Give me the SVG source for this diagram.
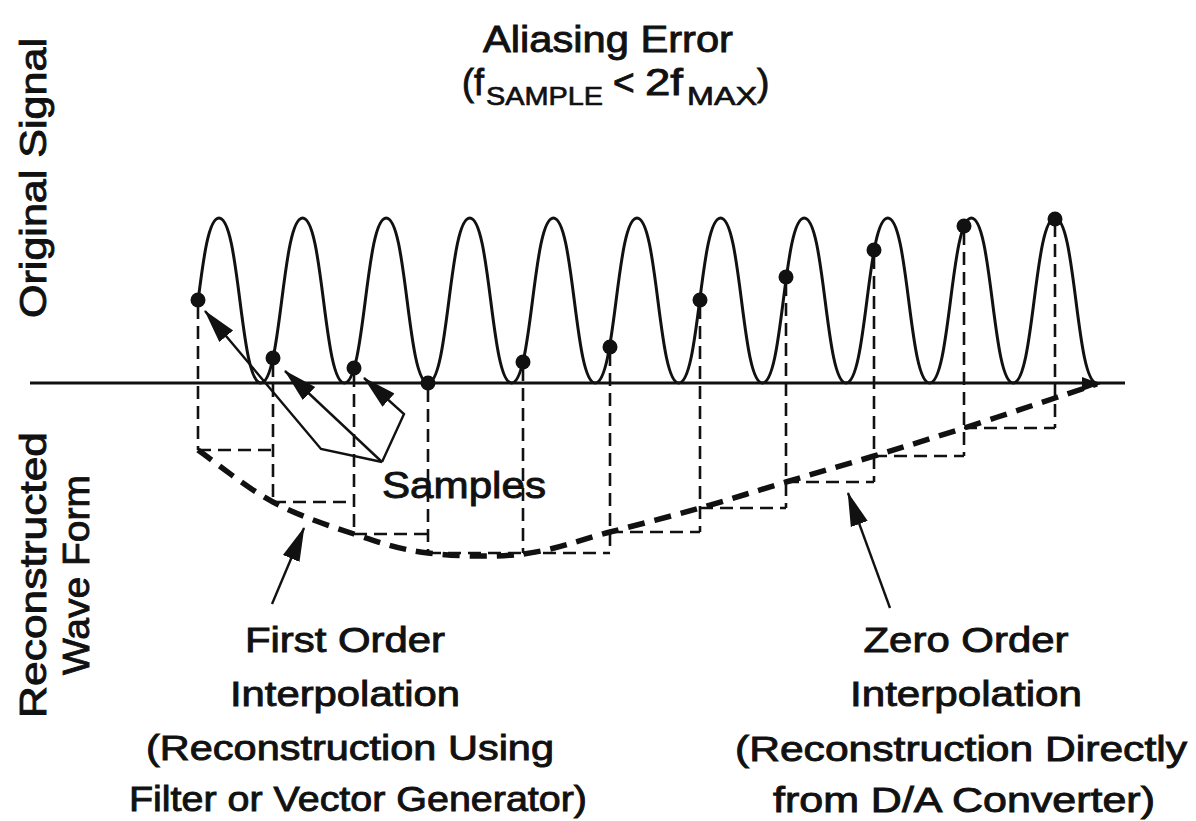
<svg xmlns="http://www.w3.org/2000/svg" width="1196" height="821" viewBox="0 0 1196 821">
<defs>
<style>
.t{font-family:"Liberation Sans",Arial,Helvetica,sans-serif;fill:#111;stroke:#111;stroke-width:0.9;}
.big{font-size:37px;}
.mid{font-size:35px;}
.sub{font-size:26px;stroke-width:0.7;}
.wave{fill:none;stroke:#111;stroke-width:3;}
.axis{fill:none;stroke:#111;stroke-width:3;}
.vd{fill:none;stroke:#111;stroke-width:2.6;stroke-dasharray:13 7;}
.hd{fill:none;stroke:#111;stroke-width:2.6;stroke-dasharray:13 7;}
.bold{fill:none;stroke:#111;stroke-width:5.5;stroke-dasharray:17 10;}
.ln{fill:none;stroke:#111;stroke-width:2.4;}
.dot{fill:#111;}
</style>
<marker id="head" markerUnits="userSpaceOnUse" viewBox="0 0 34 20" markerWidth="34" markerHeight="20" refX="33" refY="10" orient="auto">
<path d="M0,1 L34,10 L0,19 z" fill="#111"/>
</marker>
</defs>
<rect width="1196" height="821" fill="#fff"/>

<g id="title">
<text class="t big" x="608" y="52" text-anchor="middle" textLength="250" lengthAdjust="spacingAndGlyphs">Aliasing Error</text>
<text class="t big" y="95"><tspan x="462" textLength="22" lengthAdjust="spacingAndGlyphs">(f</tspan><tspan class="sub" x="486" y="105" textLength="117" lengthAdjust="spacingAndGlyphs">SAMPLE</tspan><tspan x="613" y="95">&lt;</tspan><tspan x="645" y="95" textLength="38" lengthAdjust="spacingAndGlyphs">2f</tspan><tspan class="sub" x="687" y="105" textLength="70" lengthAdjust="spacingAndGlyphs">MAX</tspan><tspan x="757" y="95">)</tspan></text>
</g>

<g id="side-labels">
<text class="t big" transform="translate(46,178) rotate(-90)" text-anchor="middle" textLength="280" lengthAdjust="spacingAndGlyphs">Original Signal</text>
<text class="t big" transform="translate(46,575) rotate(-90)" text-anchor="middle" textLength="286" lengthAdjust="spacingAndGlyphs">Reconstructed</text>
<text class="t big" transform="translate(89,575) rotate(-90)" text-anchor="middle" textLength="200" lengthAdjust="spacingAndGlyphs">Wave Form</text>
</g>

<g id="axis">
<line class="axis" x1="30" y1="383" x2="1125" y2="383"/>
</g>

<g id="original-signal">
<path class="wave" d="M198.1,300.5 C203.3,259.25 208.55,218 219,218
C239.9,218 239.9,383 260.8,383 C281.7,383 281.7,218 302.6,218
C323.5,218 323.5,383 344.4,383 C365.3,383 365.3,218 386.2,218
C407.1,218 407.1,383 428,383 C448.9,383 448.9,218 469.8,218
C490.7,218 490.7,383 511.6,383 C532.5,383 532.5,218 553.4,218
C574.3,218 574.3,383 595.2,383 C616.1,383 616.1,218 637,218
C657.9,218 657.9,383 678.8,383 C699.7,383 699.7,218 720.6,218
C741.5,218 741.5,383 762.4,383 C783.3,383 783.3,218 804.2,218
C825.1,218 825.1,383 846,383 C866.9,383 866.9,218 887.8,218
C908.7,218 908.7,383 929.6,383 C950.5,383 950.5,218 971.4,218
C992.3,218 992.3,383 1013.2,383 C1034.1,383 1034.1,218 1055,218
C1075.9,218 1075.9,383 1096.8,383"/>
</g>

<g id="sample-lines">
<line class="vd" x1="198" y1="306" x2="198" y2="450"/>
<line class="vd" x1="273" y1="364" x2="273" y2="502"/>
<line class="vd" x1="354" y1="374" x2="354" y2="534"/>
<line class="vd" x1="428" y1="389" x2="428" y2="553"/>
<line class="vd" x1="523" y1="368" x2="523" y2="553"/>
<line class="vd" x1="610" y1="353" x2="610" y2="553"/>
<line class="vd" x1="700" y1="306" x2="700" y2="532"/>
<line class="vd" x1="786" y1="283" x2="786" y2="508"/>
<line class="vd" x1="874" y1="256" x2="874" y2="482"/>
<line class="vd" x1="964" y1="232" x2="964" y2="456"/>
<line class="vd" x1="1055" y1="224" x2="1055" y2="428"/>
</g>

<g id="zero-order-steps">
<line class="hd" x1="198" y1="450" x2="273" y2="450"/>
<line class="hd" x1="273" y1="502" x2="354" y2="502"/>
<line class="hd" x1="354" y1="534" x2="428" y2="534"/>
<line class="hd" x1="428" y1="553" x2="523" y2="553"/>
<line class="hd" x1="523" y1="553" x2="610" y2="553"/>
<line class="hd" x1="610" y1="532" x2="700" y2="532"/>
<line class="hd" x1="700" y1="508" x2="786" y2="508"/>
<line class="hd" x1="786" y1="482" x2="874" y2="482"/>
<line class="hd" x1="874" y1="456" x2="964" y2="456"/>
<line class="hd" x1="964" y1="428" x2="1055" y2="428"/>
</g>

<g id="first-order-curve">
<path class="bold" d="M198,450 C222.3,467.3 246.7,488 273,502 C299,516 328.2,525.5 354,534 C379.8,542.5 399.8,549.7 428,553 C456.2,556.3 492.7,557.5 523,554 C553.3,550.5 580.5,539.7 610,532 C639.5,524.3 670.7,516.3 700,508 C729.3,499.7 757,490.7 786,482 C815,473.3 844.3,465 874,456 C903.7,447 933.8,437.7 964,428 C994.2,418.3 1032.8,405.3 1055,398 C1077.2,390.7 1083,388.7 1097,384"/>
<path d="M1082,377 L1101,384 L1082,391 z" fill="#111"/>
</g>

<g id="samples">
<circle class="dot" cx="198" cy="300" r="7.5"/>
<circle class="dot" cx="273" cy="358" r="7.5"/>
<circle class="dot" cx="354" cy="368" r="7.5"/>
<circle class="dot" cx="428" cy="383" r="7.5"/>
<circle class="dot" cx="523" cy="362" r="7.5"/>
<circle class="dot" cx="610" cy="347" r="7.5"/>
<circle class="dot" cx="700" cy="300" r="7.5"/>
<circle class="dot" cx="786" cy="277" r="7.5"/>
<circle class="dot" cx="874" cy="250" r="7.5"/>
<circle class="dot" cx="964" cy="226" r="7.5"/>
<circle class="dot" cx="1055" cy="219" r="7.5"/>
</g>

<g id="connectors">
<polyline class="ln" points="382,462 321,449 205,311" marker-end="url(#head)"/>
<polyline class="ln" points="382,462 285,371" marker-end="url(#head)"/>
<polyline class="ln" points="382,462 404,414 364,378" marker-end="url(#head)"/>
<line class="ln" x1="272" y1="604" x2="304" y2="528" marker-end="url(#head)"/>
<line class="ln" x1="890" y1="608" x2="848" y2="493" marker-end="url(#head)"/>
</g>

<g id="samples-label">
<text class="t big" x="382" y="498" textLength="164" lengthAdjust="spacingAndGlyphs">Samples</text>
</g>

<g id="first-order-label">
<text class="t mid" x="345" y="652" text-anchor="middle" textLength="200" lengthAdjust="spacingAndGlyphs">First Order</text>
<text class="t mid" x="345" y="706" text-anchor="middle" textLength="230" lengthAdjust="spacingAndGlyphs">Interpolation</text>
<text class="t mid" x="350" y="760" text-anchor="middle" textLength="408" lengthAdjust="spacingAndGlyphs">(Reconstruction Using</text>
<text class="t mid" x="358" y="811" text-anchor="middle" textLength="458" lengthAdjust="spacingAndGlyphs">Filter or Vector Generator)</text>
</g>

<g id="zero-order-label">
<text class="t mid" x="966" y="652" text-anchor="middle" textLength="205" lengthAdjust="spacingAndGlyphs">Zero Order</text>
<text class="t mid" x="966" y="706" text-anchor="middle" textLength="232" lengthAdjust="spacingAndGlyphs">Interpolation</text>
<text class="t mid" x="961" y="761" text-anchor="middle" textLength="452" lengthAdjust="spacingAndGlyphs">(Reconstruction Directly</text>
<text class="t mid" x="964" y="812" text-anchor="middle" textLength="382" lengthAdjust="spacingAndGlyphs">from D/A Converter)</text>
</g>
</svg>
